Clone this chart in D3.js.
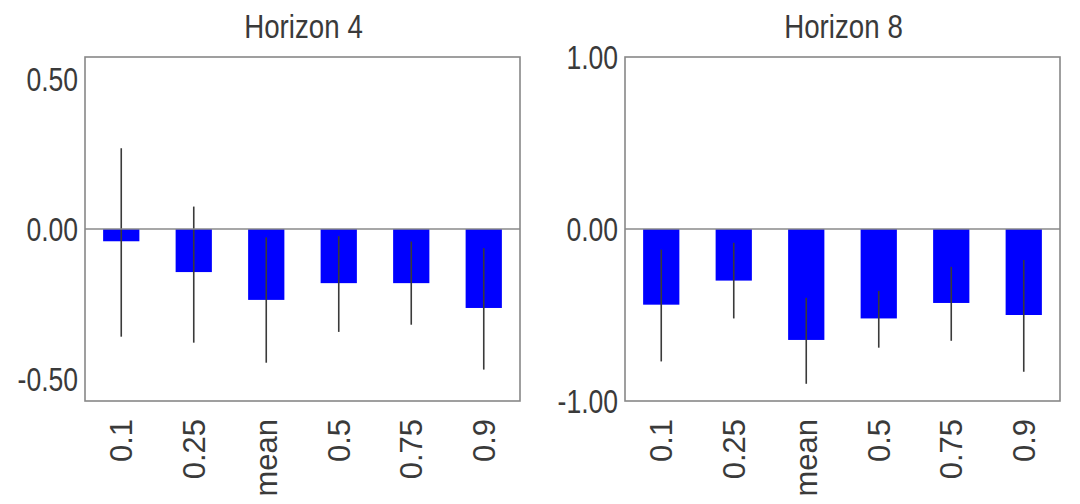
<!DOCTYPE html>
<html>
<head>
<meta charset="utf-8">
<script src="https://cdn.jsdelivr.net/npm/d3@7"></script>
<style>
  html, body { margin: 0; padding: 0; background: #fff; }
  svg { display: block; }
  text { font-family: "Liberation Sans", Arial, sans-serif; fill: #3a3a3a; }
</style>
</head>
<body>
<svg id="chart" width="1080" height="504"></svg>
<script>
// Quantile categories shared by both panels
const categories = ["0.1", "0.25", "mean", "0.5", "0.75", "0.9"];

// Horizon 4: point estimates and interval bounds
const h4Values = [-0.041, -0.144, -0.237, -0.181, -0.181, -0.264];
const h4Upper  = [0.27, 0.075, -0.028, -0.024, -0.042, -0.064];
const h4Lower  = [-0.36, -0.38, -0.447, -0.344, -0.32, -0.47];
const h4Ticks  = [0.5, 0, -0.5];

// Horizon 8: point estimates and interval bounds
const h8Values = [-0.44, -0.30, -0.645, -0.52, -0.43, -0.50];
const h8Upper  = [-0.12, -0.08, -0.40, -0.36, -0.22, -0.18];
const h8Lower  = [-0.77, -0.52, -0.90, -0.69, -0.65, -0.83];
const h8Ticks  = [1, 0, -1];

const panels = [
  { title: "Horizon 4", values: h4Values, upper: h4Upper, lower: h4Lower,
    ticks: h4Ticks, domain: [-0.575, 0.575], left: 85 },
  { title: "Horizon 8", values: h8Values, upper: h8Upper, lower: h8Lower,
    ticks: h8Ticks, domain: [-1, 1], left: 625 }
];

const svg = d3.select("#chart");
const plotTop = 57, plotBottom = 401, plotW = 435;
// two decimals, plain hyphen for negatives
const fmt = d => d3.format(".2f")(d).replace("\u2212", "-");

panels.forEach(p => {
  const g = svg.append("g");
  const x = d3.scaleBand().domain(categories)
    .range([p.left, p.left + plotW]).paddingInner(0.5).paddingOuter(0.25);
  const y = d3.scaleLinear().domain(p.domain).range([plotBottom, plotTop]);

  // title
  g.append("text")
    .attr("transform", `translate(${p.left + plotW / 2 + 1},38) scale(0.84,1)`)
    .attr("text-anchor", "middle")
    .style("font-size", "33px")
    .text(p.title);

  // bars
  g.selectAll("rect.bar").data(p.values).join("rect")
    .attr("class", "bar")
    .attr("x", (d, i) => x(categories[i]))
    .attr("width", x.bandwidth())
    .attr("y", d => y(Math.max(0, d)))
    .attr("height", d => Math.abs(y(d) - y(0)))
    .attr("fill", "#0000ff");

  // interval lines
  g.selectAll("line.err").data(p.values).join("line")
    .attr("class", "err")
    .attr("x1", (d, i) => x(categories[i]) + x.bandwidth() / 2)
    .attr("x2", (d, i) => x(categories[i]) + x.bandwidth() / 2)
    .attr("y1", (d, i) => y(p.upper[i]))
    .attr("y2", (d, i) => y(p.lower[i]))
    .attr("stroke", "#3a3a3a")
    .attr("stroke-width", 1.6);

  // zero line
  g.append("line")
    .attr("x1", p.left).attr("x2", p.left + plotW)
    .attr("y1", y(0)).attr("y2", y(0))
    .attr("stroke", "#8a8a8a").attr("stroke-width", 1.5);

  // frame
  g.append("rect")
    .attr("x", p.left).attr("y", plotTop)
    .attr("width", plotW).attr("height", plotBottom - plotTop)
    .attr("fill", "none").attr("stroke", "#888").attr("stroke-width", 1.6);

  // y tick labels
  g.selectAll("text.ytick").data(p.ticks).join("text")
    .attr("class", "ytick")
    .attr("transform", d => `translate(${p.left - 7},${y(d) + 12}) scale(0.78,1)`)
    .attr("text-anchor", "end")
    .style("font-size", "34px")
    .text(fmt);

  // x category labels, rotated
  g.selectAll("text.xtick").data(categories).join("text")
    .attr("class", "xtick")
    .attr("transform", d => `translate(${x(d) + x.bandwidth() / 2 + 11},419) rotate(-90)`)
    .attr("text-anchor", "end")
    .style("font-size", "31px")
    .text(d => d);
});
</script>
</body>
</html>
